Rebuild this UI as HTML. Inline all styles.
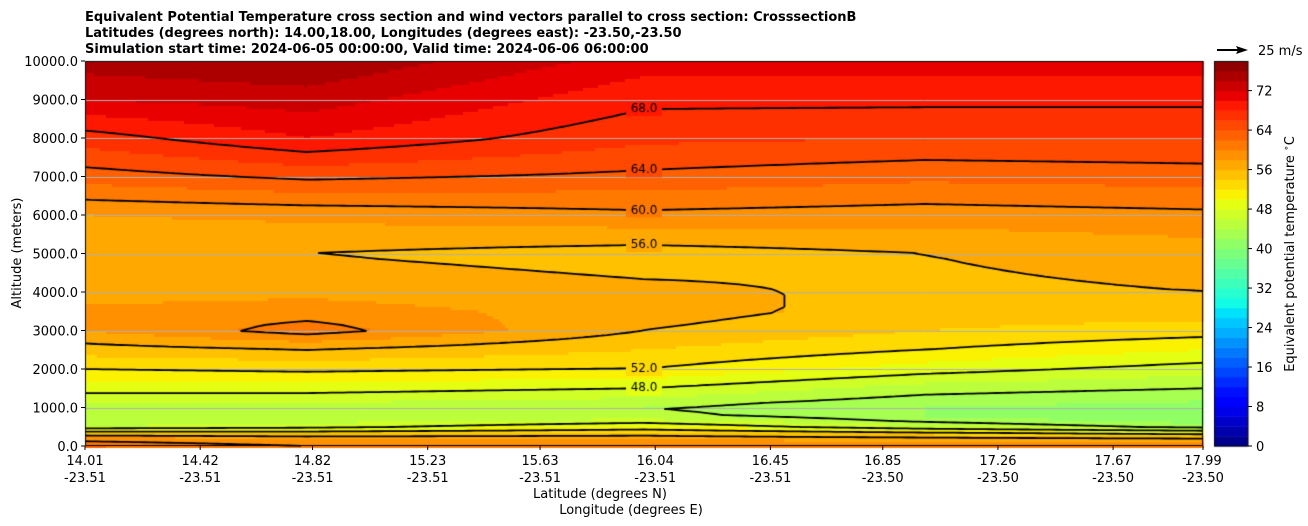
<!DOCTYPE html>
<html><head><meta charset="utf-8"><style>
body{margin:0;background:#fff;width:1308px;height:526px;overflow:hidden;font-family:"DejaVu Sans","Liberation Sans",sans-serif;}
#wrap{position:relative;width:1308px;height:526px;}
canvas{position:absolute;left:0;top:0;}
svg{position:absolute;left:0;top:0;}
</style></head><body>
<div id="wrap">
<canvas id="cv" width="1308" height="526"></canvas>
<svg id="sv" width="1308" height="526">
<text x="85" y="21" font-size="13" font-weight="bold">Equivalent Potential Temperature cross section and wind vectors parallel to cross section: CrosssectionB</text>
<text x="85" y="37" font-size="13" font-weight="bold">Latitudes (degrees north): 14.00,18.00, Longitudes (degrees east): -23.50,-23.50</text>
<text x="85" y="53" font-size="13" font-weight="bold">Simulation start time: 2024-06-05 00:00:00, Valid time: 2024-06-06 06:00:00</text>
<text x="21" y="253" font-size="13" text-anchor="middle" transform="rotate(-90 21 253)">Altitude (meters)</text>
<text x="600" y="498" font-size="13" text-anchor="middle">Latitude (degrees N)</text>
<text x="631" y="514" font-size="13" text-anchor="middle">Longitude (degrees E)</text>
<text x="1294" y="254" font-size="13" text-anchor="middle" transform="rotate(-90 1294 254)">Equivalent potential temperature <tspan font-size="9" dy="-5">∘</tspan><tspan dy="5">C</tspan></text>
<line x1="1217" y1="50" x2="1240" y2="50" stroke="#000" stroke-width="2"/>
<polygon points="1248,50 1236,46 1238,50 1236,54" fill="#000"/>
<text x="1258" y="55" font-size="13">25 m/s</text>
<g id="ax"></g>
</svg>
</div>
<script>
// ---- data ----
const columnLats = [14.0, 14.8, 16.0, 17.0, 18.0];
const altitudes = [0,250,500,750,1000,1500,2000,2500,3000,3500,4000,5000,6000,7000,8000,9000,10000];
const thetaLat140 = [62,58,46,44,45,49,52,55,58,58.5,57,56,58,63,67,72,75];
const thetaLat148 = [60,57,47,44,45,49,52.5,56,61,59,57.5,56,58.5,64.5,70,73,76];
const thetaLat160 = [60,57,50,45,44,48,52,54,56,57,56.5,55,59.5,63.5,66.5,68.5,71];
const thetaLat170 = [60,56,46,42,42,45,49,52,54,55,55.5,56,59,62.5,66,68.5,71];
const thetaLat180 = [60,55,43,40,41,44,47,50,53,55,56,57,59.5,63,66,68.5,71];
const contourLevels = [44,48,52,56,60,64,68];
const xTickLats = ["14.01","14.42","14.82","15.23","15.63","16.04","16.45","16.85","17.26","17.67","17.99"];
const xTickLons = ["-23.51","-23.51","-23.51","-23.51","-23.51","-23.51","-23.51","-23.50","-23.50","-23.50","-23.50"];
const yTicks = [0,1000,2000,3000,4000,5000,6000,7000,8000,9000,10000];
const cbTicks = [0,8,16,24,32,40,48,56,64,72];
const cbMin = 0, cbMax = 78, cbStep = 2;

// ---- axes ----
const L=85,R=1203,T=61,B=446, LAT0=14.01, LAT1=17.99;
const xS = lat => L + (lat-LAT0)/(LAT1-LAT0)*(R-L);
const yS = alt => B - alt/10000*(B-T);
const cols=[thetaLat140,thetaLat148,thetaLat160,thetaLat170,thetaLat180];
function prof(c,alt){const a=altitudes;for(let i=0;i<a.length-1;i++){if(alt<=a[i+1]){const t=(alt-a[i])/(a[i+1]-a[i]);return c[i]+(c[i+1]-c[i])*t;}}return c[c.length-1];}
function field(lat,alt){let j=0;while(j<columnLats.length-2&&lat>columnLats[j+1])j++;let t=(lat-columnLats[j])/(columnLats[j+1]-columnLats[j]);t=Math.max(0,Math.min(1,t));return prof(cols[j],alt)*(1-t)+prof(cols[j+1],alt)*t;}
function seg(pts,x){for(let i=0;i<pts.length-1;i++){if(x<=pts[i+1][0]){const t=(x-pts[i][0])/(pts[i+1][0]-pts[i][0]);return pts[i][1]+(pts[i+1][1]-pts[i][1])*t;}}return pts[pts.length-1][1];}
function jet(x){x=Math.max(0,Math.min(1,x));
const r=seg([[0,0],[0.35,0],[0.66,1],[0.89,1],[1,0.5]],x);
const g=seg([[0,0],[0.125,0],[0.375,1],[0.64,1],[0.91,0],[1,0]],x);
const b=seg([[0,0.5],[0.11,1],[0.34,1],[0.65,0],[1,0]],x);
return [Math.round(r*255),Math.round(g*255),Math.round(b*255)];}
function bandColor(v){const lv=Math.floor(v/cbStep)*cbStep+cbStep/2;const [r,g,b]=jet((lv-cbMin)/(cbMax-cbMin));return `rgb(${r},${g},${b})`;}
const cv=document.getElementById('cv'),ctx=cv.getContext('2d');
const pxToLat=x=>LAT0+(x-L)/(R-L)*(LAT1-LAT0), pxToAlt=y=>(B-y)/(B-T)*10000;
const S=3;
for(let x=L;x<R;x+=S)for(let y=T;y<B;y+=S){ctx.fillStyle=bandColor(field(pxToLat(x+S/2),pxToAlt(y+S/2)));ctx.fillRect(x,y,S,S);}
// gridlines
ctx.strokeStyle='#b0b0b0';ctx.lineWidth=1;
yTicks.forEach(t=>{if(t===0||t===10000)return;const y=Math.round(yS(t))+0.5;ctx.beginPath();ctx.moveTo(L,y);ctx.lineTo(R,y);ctx.stroke();});
// contours via marching squares
const G=6;ctx.strokeStyle='#000';ctx.lineWidth=1.8;
contourLevels.forEach(lv=>{ctx.beginPath();
for(let x=L;x<R;x+=G)for(let y=T;y<B;y+=G){const x2=Math.min(x+G,R),y2=Math.min(y+G,B);
const p=[[x,y],[x2,y],[x2,y2],[x,y2]].map(q=>[q[0],q[1],field(pxToLat(q[0]),pxToAlt(q[1]))]);
const pts=[];for(let k=0;k<4;k++){const a=p[k],b=p[(k+1)%4];if((a[2]-lv)*(b[2]-lv)<0){const t=(lv-a[2])/(b[2]-a[2]);pts.push([a[0]+(b[0]-a[0])*t,a[1]+(b[1]-a[1])*t]);}}
if(pts.length>=2){ctx.moveTo(pts[0][0],pts[0][1]);ctx.lineTo(pts[1][0],pts[1][1]);}
if(pts.length===4){ctx.moveTo(pts[2][0],pts[2][1]);ctx.lineTo(pts[3][0],pts[3][1]);}}
ctx.stroke();});
// contour labels near lat 16.0
ctx.font='12px "DejaVu Sans",sans-serif';ctx.textAlign='center';ctx.textBaseline='middle';
contourLevels.forEach(lv=>{const lat=16.0;let best=null;for(let a=1200;a<9800;a+=10){const v0=field(lat,a),v1=field(lat,a+10);if((v0-lv)*(v1-lv)<=0){best=a;}}
if(best!==null){const x=xS(lat),y=yS(best);ctx.fillStyle=bandColor(lv);ctx.fillRect(x-18,y-7,36,14);ctx.fillStyle='#000';ctx.fillText(lv.toFixed(1),x,y);}});
// colorbar
for(let v=cbMin;v<cbMax;v+=cbStep){const y0=B-(v-cbMin)/(cbMax-cbMin)*(B-T),y1=B-(v+cbStep-cbMin)/(cbMax-cbMin)*(B-T);const [r,g,b]=jet((v+cbStep/2-cbMin)/(cbMax-cbMin));ctx.fillStyle=`rgb(${r},${g},${b})`;ctx.fillRect(1214,y1,34,y0-y1+0.5);}
ctx.strokeStyle='#000';ctx.lineWidth=1;ctx.strokeRect(1214.5,61.5,33.5,384.5);ctx.strokeRect(L+0.5,T+0.5,R-L-1,B-T-1);
// svg ticks
const ax=document.getElementById('ax');const NS='http://www.w3.org/2000/svg';
function mk(tag,attrs,txt){const e=document.createElementNS(NS,tag);for(const k in attrs)e.setAttribute(k,attrs[k]);if(txt!==undefined)e.textContent=txt;ax.appendChild(e);return e;}
xTickLats.forEach((lt,i)=>{const x=xS(parseFloat(lt));
const tk=mk('line',{x1:x,y1:B,x2:x,y2:B+4,stroke:'#000'});


const t=mk('text',{x:x,y:B+19,'font-size':13,'text-anchor':'middle'},lt);


const t2=mk('text',{x:x,y:B+36,'font-size':13,'text-anchor':'middle'},xTickLons[i]);

});
yTicks.forEach(v=>{const y=yS(v);
const tk=mk('line',{x1:L-4,y1:y,x2:L,y2:y,stroke:'#000'});


const t=mk('text',{x:L-7,y:y+5,'font-size':13,'text-anchor':'end'},v.toFixed(1));

});
cbTicks.forEach(v=>{const y=B-(v-cbMin)/(cbMax-cbMin)*(B-T);
const tk=mk('line',{x1:1248,y1:y,x2:1252,y2:y,stroke:'#000'});


const t=mk('text',{x:1256,y:y+5,'font-size':13},String(v));

});
</script>
</body></html>
